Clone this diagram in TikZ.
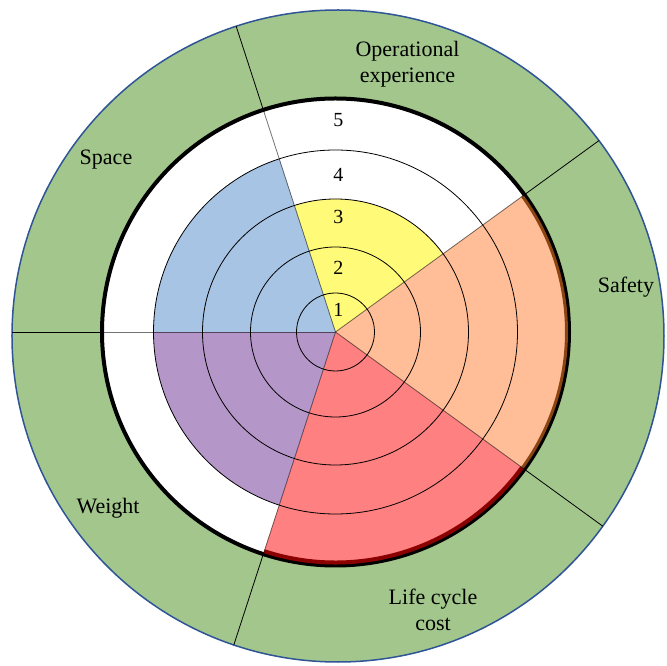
\documentclass[tikz,border=0pt]{standalone}
\usepackage{fontspec}
\setmainfont{Liberation Serif}
\definecolor{ringgreen}{HTML}{A2C68B}
\definecolor{secblue}{HTML}{A7C4E4}
\definecolor{secyellow}{HTML}{FFFA78}
\definecolor{secorange}{HTML}{FFBE97}
\definecolor{secred}{HTML}{FF8080}
\definecolor{secpurple}{HTML}{B596C8}
\definecolor{rimblue}{HTML}{2F5597}
\definecolor{rimred}{HTML}{8B0000}
\definecolor{rimbrown}{HTML}{8B4513}
\tikzset{
  lbl/.style={font=\fontsize{22}{26}\selectfont, align=center, inner sep=0pt},
  num/.style={font=\fontsize{20}{22}\selectfont, inner sep=0pt},
  ringline/.style={line width=0.8pt, black},
  divline/.style={line width=0.8pt, black},
}
\newcommand{\sector}[4]{\fill[#1] (0,0) -- (#2:#4) arc[start angle=#2, end angle=#3, radius=#4] -- cycle;}
\begin{document}
\begin{tikzpicture}[x=1pt,y=1pt]
\useasboundingbox (-335.5,-334) rectangle (331.5,332);
% outer green ring
\fill[ringgreen] (2.5,-4) circle[radius=326];
\draw[rimblue, line width=1.5pt] (2.5,-4) circle[radius=326];
% white interior
\fill[white] (0,0) circle[radius=232];
% sectors
\sector{secyellow}{36}{108}{133}
\sector{secorange}{-36}{36}{232}
\sector{secred}{-108}{-36}{232}
\sector{secpurple}{180}{252}{182}
\sector{secblue}{108}{180}{182}
% rings
\foreach \r in {39,85,133,182} \draw[ringline] (0,0) circle[radius=\r];
\draw[black, line width=4pt] (0,0) circle[radius=233.5];
\draw[rimred, line width=4pt] (-36:230.5) arc[start angle=-36, end angle=-108, radius=230.5];
\draw[rimbrown, line width=3pt] (-36:231) arc[start angle=-36, end angle=36, radius=231];
% division lines
\begin{scope}
\clip (2.5,-4) circle[radius=326];
\foreach \a in {180,108,36,-36,-108} {
  \draw[divline, opacity=0.55] (0,0) -- (\a:232);
  \draw[divline] (\a:232) -- (\a:345);
}
\end{scope}
% scale numbers
\node[num] (n1) at (3,22) {1};
\node[num] (n2) at (3,64) {2};
\node[num] (n3) at (3,115) {3};
\node[num] (n4) at (3,157) {4};
\node[num] (n5) at (3,212) {5};
% category labels
\node[lbl] (op) at (72,268) {Operational\\experience};
\node[lbl] (sa) at (290.5,45) {Safety};
\node[lbl] (lc) at (97.5,-278) {Life cycle\\cost};
\node[lbl] (we) at (-227.5,-176) {Weight};
\node[lbl] (sp) at (-229.5,172) {Space};
\end{tikzpicture}
\end{document}
